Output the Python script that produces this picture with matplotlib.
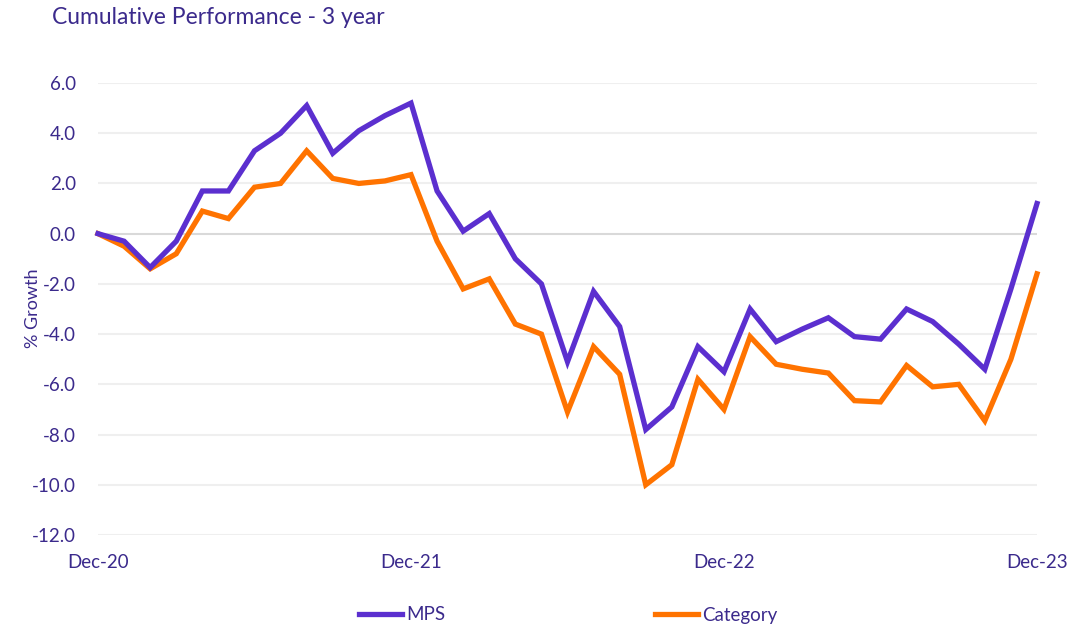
import matplotlib
matplotlib.use("Agg")
from matplotlib import pyplot as plt
import numpy as np

# month-end dates, Dec-20 .. Dec-23
months = np.arange(37)
tick_pos = [0, 12, 24, 36]
tick_labels = ["Dec-20", "Dec-21", "Dec-22", "Dec-23"]

mps = [0.0, -0.3, -1.35, -0.3, 1.7, 1.7, 3.3, 4.0, 5.1, 3.2, 4.1, 4.7, 5.2,
       1.7, 0.1, 0.8, -1.0, -2.0, -5.1, -2.3, -3.7, -7.8, -6.9, -4.5, -5.5,
       -3.0, -4.3, -3.8, -3.35, -4.1, -4.2, -3.0, -3.5, -4.4, -5.4, -2.2, 1.2]
category = [0.0, -0.5, -1.4, -0.8, 0.9, 0.6, 1.85, 2.0, 3.3, 2.2, 2.0, 2.1, 2.35,
            -0.3, -2.2, -1.8, -3.6, -4.0, -7.1, -4.5, -5.6, -10.0, -9.2, -5.8, -7.0,
            -4.1, -5.2, -5.4, -5.55, -6.65, -6.7, -5.25, -6.1, -6.0, -7.45, -5.0, -1.6]

text_col = "#3b2a8c"
plt.rcParams['font.family'] = ['Lato', 'DejaVu Sans']

fig = plt.figure(figsize=(10.78, 6.35), dpi=100)
ax = fig.add_axes([98 / 1078, 1 - 535 / 635, (1037 - 98) / 1078, (535 - 83) / 635])

# gridlines
for y in np.arange(-12, 7, 2):
    col = "#d9d9d9" if y == 0 else "#efefef"
    ax.axhline(y, color=col, lw=1.5, zorder=1)

ax.plot(months, mps, color="#5b2fcf", lw=3.8, label="MPS", zorder=3,
        solid_joinstyle="miter", clip_on=False)
ax.plot(months, category, color="#ff7300", lw=3.8, label="Category", zorder=2,
        solid_joinstyle="miter", clip_on=False)

ax.set_xlim(0, 36)
ax.set_ylim(-12, 6)
ax.set_yticks(np.arange(-12, 7, 2))
ax.set_yticklabels([f"{v:.1f}" for v in np.arange(-12, 7, 2)])
ax.set_xticks(tick_pos)
ax.set_xticklabels(tick_labels)
ax.tick_params(length=0, labelsize=13.5, colors=text_col)
ax.tick_params(axis="y", pad=16)
ax.tick_params(axis="x", pad=14)
for s in ax.spines.values():
    s.set_visible(False)

fig.text(33 / 1078, 1 - 308 / 635, "% Growth", color=text_col, fontsize=13,
         rotation=90, ha="center", va="center")

fig.text(52 / 1078, 1 - 18 / 635, "Cumulative Performance - 3 year",
         color=text_col, fontsize=16.5, va="center", ha="left")

fig.legend(loc="center", bbox_to_anchor=(0.527, 1 - 615 / 635), ncol=2,
           frameon=False, fontsize=13.5, labelcolor=text_col,
           handlelength=2.3, handletextpad=0.2, columnspacing=11.2)

fig.savefig("out.png", dpi=100)
